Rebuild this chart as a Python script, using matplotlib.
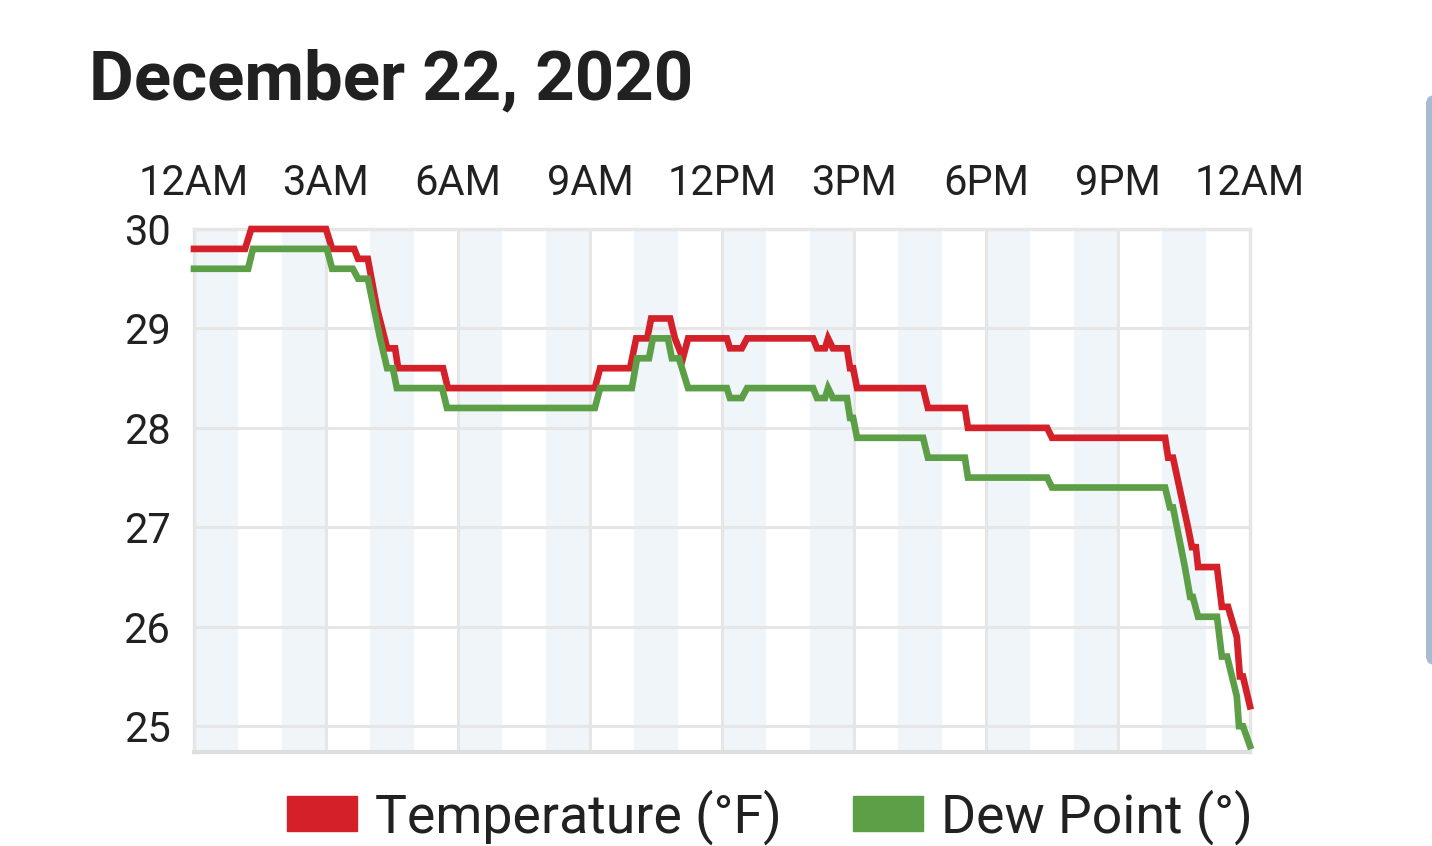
import matplotlib
matplotlib.use("Agg")
import matplotlib.pyplot as plt
from matplotlib.patches import Patch, FancyBboxPatch
from matplotlib.transforms import IdentityTransform

plt.rcParams['font.family'] = ['Roboto', 'DejaVu Sans']

# temperature trace (hour of day, deg F)
temp_hours = [0, 1.16, 1.30, 3.00, 3.14, 3.64, 3.73, 3.95, 4.16, 4.39, 4.57, 4.64, 5.66, 5.77,
              9.11, 9.23, 9.91, 10.05, 10.30, 10.39, 10.82, 10.93, 11.11, 11.23, 12.11, 12.18,
              12.45, 12.57, 14.07, 14.16, 14.34, 14.41, 14.52, 14.84, 14.91, 14.98, 15.07,
              16.57, 16.68, 17.52, 17.59, 19.39, 19.50, 22.07, 22.14, 22.25, 22.59, 22.68,
              22.77, 22.82, 23.25, 23.36, 23.50, 23.70, 23.77, 23.84, 24.0]
temp_vals = [29.8, 29.8, 30.0, 30.0, 29.8, 29.8, 29.7, 29.7, 29.2, 28.8, 28.8, 28.6, 28.6, 28.4,
             28.4, 28.6, 28.6, 28.9, 28.9, 29.1, 29.1, 28.9, 28.7, 28.9, 28.9, 28.8,
             28.8, 28.9, 28.9, 28.8, 28.8, 28.9, 28.8, 28.8, 28.6, 28.6, 28.4,
             28.4, 28.2, 28.2, 28.0, 28.0, 27.9, 27.9, 27.7, 27.7, 27.0, 26.8,
             26.8, 26.6, 26.6, 26.2, 26.2, 25.9, 25.5, 25.5, 25.2]

# dew point trace
dew_hours = [0, 1.23, 1.34, 3.02, 3.14, 3.61, 3.73, 3.95, 4.23, 4.39, 4.52, 4.61, 5.64, 5.75,
             9.11, 9.23, 9.95, 10.07, 10.34, 10.43, 10.77, 10.86, 11.02, 11.23, 12.11, 12.18,
             12.45, 12.57, 14.07, 14.16, 14.34, 14.41, 14.52, 14.84, 14.91, 14.98, 15.07,
             16.57, 16.68, 17.52, 17.59, 19.39, 19.50, 22.07, 22.18, 22.25, 22.52, 22.64,
             22.70, 22.82, 23.25, 23.36, 23.48, 23.70, 23.75, 23.84, 24.0]
dew_vals = [29.6, 29.6, 29.8, 29.8, 29.6, 29.6, 29.5, 29.5, 28.9, 28.6, 28.6, 28.4, 28.4, 28.2,
            28.2, 28.4, 28.4, 28.7, 28.7, 28.9, 28.9, 28.7, 28.7, 28.4, 28.4, 28.3,
            28.3, 28.4, 28.4, 28.3, 28.3, 28.4, 28.3, 28.3, 28.1, 28.1, 27.9,
            27.9, 27.7, 27.7, 27.5, 27.5, 27.4, 27.4, 27.2, 27.2, 26.6, 26.3,
            26.3, 26.1, 26.1, 25.7, 25.7, 25.3, 25.0, 25.0, 24.8]

tick_hours = [0, 3, 6, 9, 12, 15, 18, 21, 24]
tick_labels = ['12AM', '3AM', '6AM', '9AM', '12PM', '3PM', '6PM', '9PM', '12AM']
y_ticks = [25, 26, 27, 28, 29, 30]
band_starts = [0, 2, 4, 6, 8, 10, 12, 14, 16, 18, 20, 22]

red = '#d42029'
green = '#5c9f46'
txt = '#212121'
grid_c = '#e6e6e6'

W, H = 1432, 846
fig = plt.figure(figsize=(W / 100, H / 100), dpi=100)
ax = fig.add_axes([194 / W, 1 - 752 / H, (1250 - 194) / W, (752 - 229) / H])

for b in band_starts:
    ax.axvspan(b, b + 1, color='#f0f5fa', lw=0, zorder=0)

ax.plot(temp_hours, temp_vals, color=red, lw=4.8, solid_joinstyle='miter', clip_on=False, zorder=3)
ax.plot(dew_hours, dew_vals, color=green, lw=4.8, solid_joinstyle='miter', clip_on=False, zorder=3)

ax.set_xlim(0, 24)
ax.set_ylim(24.74, 30)
ax.xaxis.tick_top()
ax.set_xticks(tick_hours)
ax.set_xticklabels(tick_labels)
ax.set_yticks(y_ticks)
ax.tick_params(axis='x', length=0, pad=18, labelsize=30, labelcolor=txt)
ax.tick_params(axis='y', length=0, pad=17, labelsize=30, labelcolor=txt)
ax.grid(color=grid_c, lw=2.2, zorder=1)
ax.set_axisbelow(True)
for s in ax.spines.values():
    s.set_color(grid_c)
    s.set_linewidth(2.5)
ax.spines['bottom'].set_color('#dedede')
ax.spines['bottom'].set_linewidth(3)

fig.text(89 / W, 1 - 99 / H, 'December 22, 2020', fontsize=49.6, fontweight='bold',
         color=txt, va='baseline', ha='left')

handles = [Patch(color=red, label='Temperature (°F)'), Patch(color=green, label='Dew Point (°)')]
fig.legend(handles=handles, loc='upper left', bbox_to_anchor=(287 / W, 1 - 789 / H), ncol=2,
           frameon=False, fontsize=38.6, handlelength=1.31, handleheight=0.62,
           handletextpad=0.34, columnspacing=1.32, borderpad=0, borderaxespad=0,
           labelcolor=txt)

# scrollbar strip at the right edge
fig.add_artist(FancyBboxPatch((1426, H - 665), 30, 570, boxstyle='round,pad=0,rounding_size=9',
                              transform=IdentityTransform(), color='#a9bbcf', lw=0))

fig.savefig('out.png', dpi=100)
